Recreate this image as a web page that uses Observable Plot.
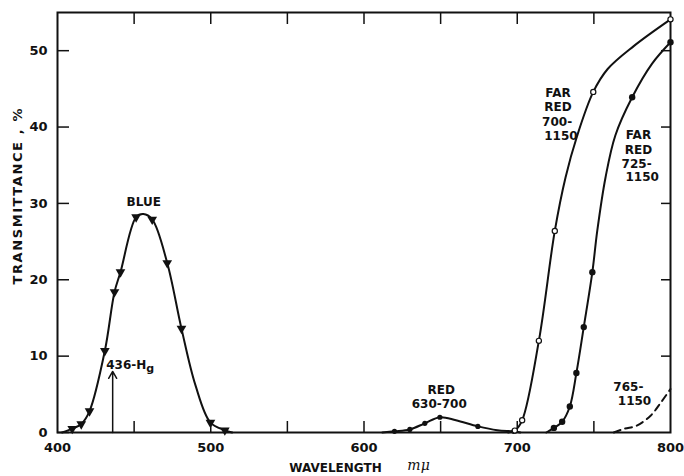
<!DOCTYPE html>
<html><head><meta charset="utf-8">
<script src="https://cdn.jsdelivr.net/npm/d3@7"></script>
<script src="https://cdn.jsdelivr.net/npm/@observablehq/plot@0.6"></script>
<style>body{margin:0;background:#fff} svg{display:block}</style>
</head><body><div id="chart"></div>
<script>
// Axis ticks
const xTickLabels = [400, 500, 600, 700, 800];
const xMinorTicks = [450, 500, 550, 600, 650, 700, 750];
const yTickLabels = [0, 10, 20, 30, 40, 50];
const yRightTicks = [10, 20, 30, 40, 50];

// BLUE filter: measured points (downward triangles)
const blueWl = [409.6, 415.5, 420.9, 430.9, 437.2, 441.1, 451.3, 461.8, 471.6, 480.9, 499.8, 509.2];
const blueT  = [0.5, 1.1, 2.8, 10.7, 18.4, 21.0, 28.2, 27.9, 22.2, 13.6, 1.3, 0.3];
// extra points
const blueCurveWl = [403, 456, 490, 514];
const blueCurveT  = [0, 28.6, 6.2, 0];

// RED 630-700: measured points (filled dots)
const redWl = [619.9, 629.9, 639.7, 649.5, 674.3, 697.8];
const redT  = [0.15, 0.4, 1.2, 2.0, 0.8, 0.15];
const redCurveWl = [612, 660, 687, 702];
const redCurveT  = [0, 1.6, 0.3, 0];

// FAR RED 700-1150: measured points (open circles)
const fr700Wl = [698.4, 703.2, 714.1, 724.5, 749.6, 800];
const fr700T  = [0.25, 1.6, 12.0, 26.4, 44.6, 54.1];
const fr700CurveWl = [694, 731.5, 739, 759, 776];
const fr700CurveT  = [0, 33.4, 38.8, 47.6, 50.6];

// FAR RED 725-1150: measured points (filled dots)
const fr725Wl = [723.9, 729.3, 734.3, 738.6, 743.4, 749.0, 775.0, 800];
const fr725T  = [0.6, 1.4, 3.4, 7.8, 13.8, 21.0, 43.9, 51.1];
const fr725CurveWl = [719, 752.2, 757.6, 764, 788];
const fr725CurveT  = [0, 26.4, 33.4, 38.9, 48.3];

// 765-1150 (dashed)
const fr765Wl = [763, 770, 778, 787, 794, 800];
const fr765T  = [0, 0.5, 0.9, 2.2, 4.0, 5.7];

// Hg line
const hgWl = [436];
const hgT = [8.0];

// Annotations
const annText = ["BLUE", "RED", "630-700", "FAR", "RED", "700-", "1150", "FAR", "RED", "725-", "1150", "765-", "1150"];
const annWl   = [456.3, 650.4, 649.1, 726.6, 726.6, 726.0, 728.5, 779.1, 779.1, 777.9, 781.5, 772.5, 776.5];
const annT    = [30.2, 5.6, 3.7, 44.5, 42.6, 40.6, 38.8, 38.9, 37.0, 35.1, 33.4, 5.9, 4.1];

const zip = (xs, ys) => xs.map((x, i) => ({x, y: ys[i]}));
const merge = (a, b) => a.concat(b).sort((p, q) => p.x - q.x);

const blueMarks = zip(blueWl, blueT);
const redMarks = zip(redWl, redT);
const fr700Marks = zip(fr700Wl, fr700T);
const fr725Marks = zip(fr725Wl, fr725T);
const blueLine = merge(blueMarks, zip(blueCurveWl, blueCurveT));
const redLine = merge(redMarks, zip(redCurveWl, redCurveT));
const fr700Line = merge(fr700Marks, zip(fr700CurveWl, fr700CurveT));
const fr725Line = merge(fr725Marks, zip(fr725CurveWl, fr725CurveT));
const fr765Line = zip(fr765Wl, fr765T);
const ann = annText.map((t, i) => ({t, x: annWl[i], y: annT[i]}));
const hg = hgWl.map((x, i) => ({x, y: hgT[i]}));

const ink = "#111";
const crv = "catmull-rom";
const chart = Plot.plot({
  width: 684, height: 476,
  marginLeft: 57, marginRight: 14, marginTop: 12, marginBottom: 44,
  x: {domain: [400, 800], label: null},
  y: {domain: [0, 55], label: null},
  style: {fontFamily: "DejaVu Sans", fontWeight: "bold", fontSize: "13px", color: ink, background: "#fff"},
  marks: [
    Plot.frame({strokeWidth: 2, stroke: ink}),
    Plot.axisX(xTickLabels, {anchor: "bottom", tickSize: 0, tickPadding: 10, label: null}),
    Plot.axisX(xMinorTicks, {anchor: "bottom", tickSize: -11, fill: "none", strokeWidth: 1.5}),
    Plot.axisX(xMinorTicks, {anchor: "top", tickSize: -11, fill: "none", strokeWidth: 1.5}),
    Plot.axisY(yTickLabels, {anchor: "left", tickSize: 0, tickPadding: 10, label: null}),
    Plot.axisY(yTickLabels, {anchor: "left", tickSize: -12, fill: "none", strokeWidth: 1.5}),
    Plot.axisY(yRightTicks, {anchor: "right", tickSize: -10, fill: "none", strokeWidth: 1.5}),
    Plot.line(blueLine, {x: "x", y: "y", curve: crv, strokeWidth: 2, stroke: ink}),
    Plot.line(redLine, {x: "x", y: "y", curve: crv, strokeWidth: 2, stroke: ink}),
    Plot.line(fr700Line, {x: "x", y: "y", curve: crv, strokeWidth: 2, stroke: ink}),
    Plot.line(fr725Line, {x: "x", y: "y", curve: crv, strokeWidth: 2, stroke: ink}),
    Plot.line(fr765Line, {x: "x", y: "y", curve: crv, strokeWidth: 2, stroke: ink, strokeDasharray: "7,5"}),
    Plot.dot(blueMarks, {x: "x", y: "y", symbol: "triangle", rotate: 180, r: 3.6, fill: ink}),
    Plot.dot(redMarks, {x: "x", y: "y", r: 2.6, fill: ink}),
    Plot.dot(fr700Marks, {x: "x", y: "y", r: 2.6, fill: "#fff", stroke: ink, strokeWidth: 1.2}),
    Plot.dot(fr725Marks, {x: "x", y: "y", r: 3.2, fill: ink}),
    Plot.arrow(hg, {x1: "x", x2: "x", y1: 0, y2: "y", headLength: 8, strokeWidth: 1.5, stroke: ink}),
    Plot.text(["436-Hg"], {x: 431.8, y: 8.8, textAnchor: "start", fontSize: 12, fill: ink}),
    Plot.text(ann, {x: "x", y: "y", text: "t", fontSize: 12, fill: ink}),
    Plot.text(["TRANSMITTANCE , %"], {x: 400, y: 31.0, dx: -40, rotate: -90, fontSize: 13, fill: ink}),
    Plot.text(["WAVELENGTH"], {x: 581.4, y: -4.7, fontSize: 12, fill: ink}),
    Plot.text(["m\u03bc"], {x: 635.6, y: -4.3, fontSize: 14, fontStyle: "italic", fontWeight: "normal", fontFamily: "DejaVu Serif", fill: ink})
  ]
});
document.getElementById("chart").appendChild(chart);
d3.select(chart).selectAll("text").filter(function() { return this.textContent === "436-Hg"; })
  .html('436-H<tspan dy="3" font-size="11">g</tspan>');
d3.select(chart).selectAll("text").filter(function() { return this.textContent === "TRANSMITTANCE , %"; })
  .style("letter-spacing", "1.6px");
</script>
</body></html>
